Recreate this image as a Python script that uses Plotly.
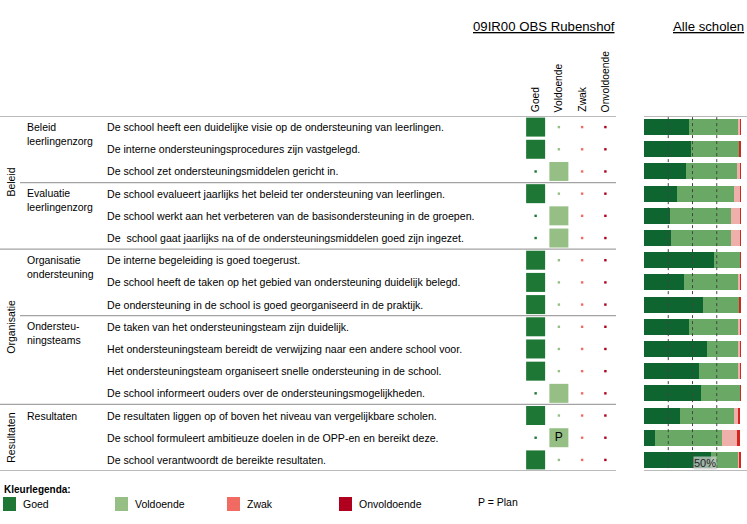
import plotly.graph_objects as go

W, H = 747, 524
FONT = "Arial, Liberation Sans, sans-serif"

# ---------------- data ----------------
groups = ["Beleid", "Organisatie", "Resultaten"]
group_center_rows = [2.5, 9.0, 14.0]

subgroups = ["Beleid<br>leerlingenzorg", "Evaluatie<br>leerlingenzorg",
             "Organisatie<br>ondersteuning", "Ondersteu-<br>ningsteams", "Resultaten"]
subgroup_first_rows = [0, 3, 6, 9, 13]

statements = [
    "De school heeft een duidelijke visie op de ondersteuning van leerlingen.",
    "De interne ondersteuningsprocedures zijn vastgelegd.",
    "De school zet ondersteuningsmiddelen gericht in.",
    "De school evalueert jaarlijks het beleid ter ondersteuning van leerlingen.",
    "De school werkt aan het verbeteren van de basisondersteuning in de groepen.",
    "De  school gaat jaarlijks na of de ondersteuningsmiddelen goed zijn ingezet.",
    "De interne begeleiding is goed toegerust.",
    "De school heeft de taken op het gebied van ondersteuning duidelijk belegd.",
    "De ondersteuning in de school is goed georganiseerd in de praktijk.",
    "De taken van het ondersteuningsteam zijn duidelijk.",
    "Het ondersteuningsteam bereidt de verwijzing naar een andere school voor.",
    "Het ondersteuningsteam organiseert snelle ondersteuning in de school.",
    "De school informeert ouders over de ondersteuningsmogelijkheden.",
    "De resultaten liggen op of boven het niveau van vergelijkbare scholen.",
    "De school formuleert ambitieuze doelen in de OPP-en en bereikt deze.",
    "De school verantwoordt de bereikte resultaten.",
]

categories = ["Goed", "Voldoende", "Zwak", "Onvoldoende"]
school_rating = ["Goed", "Goed", "Voldoende", "Goed", "Voldoende", "Voldoende",
                 "Goed", "Goed", "Goed", "Goed", "Goed", "Goed", "Voldoende",
                 "Goed", "Voldoende", "Goed"]
plan_flag = ["", "", "", "", "", "", "", "", "", "", "", "", "", "", "P", ""]

all_goed = [46.5, 48.6, 43.4, 34.1, 26.9, 27.9, 72.4, 41.4, 60.9, 46.6, 65.2, 56.9, 59.0, 37.2, 11.4, 69.3]
all_voldoende = [50.7, 49.7, 52.8, 59.0, 63.1, 62.1, 26.6, 55.9, 37.2, 50.7, 32.1, 40.4, 40.0, 55.9, 69.3, 27.9]
all_zwak = [1.8, 0.4, 2.8, 5.9, 9.0, 9.0, 0.0, 1.7, 0.7, 1.7, 1.7, 1.7, 0.0, 4.8, 15.5, 1.7]
all_onvoldoende = [1.0, 1.3, 1.0, 1.0, 1.0, 1.0, 1.0, 1.0, 1.2, 1.0, 1.0, 1.0, 1.0, 1.0, 2.8, 1.0]

ref_lines = [25, 50, 75]

# ---------------- styles ----------------
cell_colors = {"Goed": "#1e7735", "Voldoende": "#96bf85", "Zwak": "#f26b63", "Onvoldoende": "#b0001e"}
bar_colors = ["#0e6530", "#6aa965", "#efb0ab", "#d9231f"]


def px(x):
    return x / W


def py(y):
    return 1 - y / H


n = len(statements)
rows = list(range(n))

fig = go.Figure()

# school matrix: big squares for rating, small dots otherwise
for ci, cat in enumerate(categories):
    big_rows = [r for r in rows if school_rating[r] == cat]
    small_rows = [r for r in rows if school_rating[r] != cat]
    fig.add_trace(go.Scatter(
        x=[ci] * len(big_rows), y=big_rows, mode="markers+text",
        text=[plan_flag[r] for r in big_rows], textposition="middle center",
        textfont=dict(family=FONT, size=12, color="#000"),
        marker=dict(symbol="square", size=19, color=cell_colors[cat], line=dict(width=0)),
        xaxis="x", yaxis="y", showlegend=False, hoverinfo="skip"))
    fig.add_trace(go.Scatter(
        x=[ci] * len(small_rows), y=small_rows, mode="markers",
        marker=dict(symbol="square", size=2.4, color=cell_colors[cat], line=dict(width=0)),
        xaxis="x", yaxis="y", showlegend=False, hoverinfo="skip"))

# all schools stacked bars
for vals, col, name in zip([all_goed, all_voldoende, all_zwak, all_onvoldoende], bar_colors, categories):
    fig.add_trace(go.Bar(
        x=vals, y=rows, orientation="h", width=0.72, marker=dict(color=col, line=dict(width=0)),
        xaxis="x2", yaxis="y", name=name, showlegend=False, hoverinfo="skip"))

shapes = []
LINE = dict(color="#a3a3a3", width=1.3)
for yv in [-0.5, 5.5, 12.5, 15.5]:
    shapes.append(dict(type="line", xref="paper", yref="y", x0=0, x1=px(616), y0=yv, y1=yv, line=LINE))
for yv in [2.5, 8.5]:
    shapes.append(dict(type="line", xref="paper", yref="y", x0=px(20), x1=px(616), y0=yv, y1=yv, line=LINE))
for yv in [-0.5, 15.5]:
    shapes.append(dict(type="line", xref="paper", yref="y", x0=px(644), x1=1, y0=yv, y1=yv, line=LINE))
for xv in ref_lines:
    shapes.append(dict(type="line", xref="x2", yref="y", x0=xv, x1=xv, y0=-0.45, y1=15.5,
                       line=dict(color="#444444", width=1, dash="dot"), layer="above"))

annotations = []
# titles
annotations.append(dict(text="<u>09IR00 OBS Rubenshof</u>", xref="paper", yref="paper", x=px(617), y=py(26),
                        xanchor="right", yanchor="middle", showarrow=False,
                        font=dict(family=FONT, size=13.2, color="#000")))
annotations.append(dict(text="<u>Alle scholen</u>", xref="paper", yref="paper", x=px(746), y=py(26),
                        xanchor="right", yanchor="middle", showarrow=False,
                        font=dict(family=FONT, size=13.2, color="#000")))
# column headers
for ci, cat in enumerate(categories):
    annotations.append(dict(text=cat, xref="x", yref="y", x=ci, y=-0.5, yshift=2, textangle=-90,
                            xanchor="center", yanchor="bottom", showarrow=False,
                            font=dict(family=FONT, size=10.3, color="#000")))
# group labels
for g, gr in zip(groups, group_center_rows):
    annotations.append(dict(text=g, xref="paper", yref="y", x=px(11), y=gr, textangle=-90,
                            xanchor="center", yanchor="middle", showarrow=False,
                            font=dict(family=FONT, size=10.5, color="#000")))
# subgroup labels
for sg, r in zip(subgroups, subgroup_first_rows):
    two = "<br>" in sg
    annotations.append(dict(text=sg, xref="paper", yref="y", x=px(25), y=r, yshift=-6.5 if two else 0,
                            xanchor="left", yanchor="middle", align="left", showarrow=False,
                            font=dict(family=FONT, size=10.5, color="#000")))
# statements
for r, s in enumerate(statements):
    annotations.append(dict(text=s, xref="paper", yref="y", x=px(105), y=r,
                            xanchor="left", yanchor="middle", align="left", showarrow=False,
                            font=dict(family=FONT, size=10.6, color="#000")))
# 50% label
annotations.append(dict(text="50%", xref="x2", yref="y", x=ref_lines[1], y=n - 1, yshift=-3,
                        xanchor="left", yanchor="middle", showarrow=False, borderpad=0,
                        bgcolor="rgba(205,205,205,0.75)",
                        font=dict(family=FONT, size=11, color="#222")))

# color legend
annotations.append(dict(text="<b>Kleurlegenda:</b>", xref="paper", yref="paper", x=px(2), y=py(489),
                        xanchor="left", yanchor="middle", showarrow=False,
                        font=dict(family=FONT, size=10, color="#000")))
leg_x = [3, 115, 227, 339]
for lx, cat in zip(leg_x, categories):
    shapes.append(dict(type="rect", xref="paper", yref="paper", x0=px(lx), x1=px(lx + 13),
                       y0=py(511), y1=py(497), fillcolor=cell_colors[cat], line=dict(width=0)))
    annotations.append(dict(text=cat, xref="paper", yref="paper", x=px(lx + 18), y=py(504),
                            xanchor="left", yanchor="middle", showarrow=False,
                            font=dict(family=FONT, size=10.5, color="#000")))
annotations.append(dict(text="P = Plan", xref="paper", yref="paper", x=px(476), y=py(502),
                        xanchor="left", yanchor="middle", showarrow=False,
                        font=dict(family=FONT, size=10.5, color="#000")))

fig.update_layout(
    width=W, height=H, margin=dict(l=0, r=0, t=0, b=0),
    paper_bgcolor="white", plot_bgcolor="white",
    barmode="stack", bargap=0,
    xaxis=dict(domain=[px(524), px(617)], range=[-0.5, 3.5], visible=False, fixedrange=True),
    xaxis2=dict(domain=[px(644), px(741)], range=[0, 100], visible=False, anchor="y", fixedrange=True),
    yaxis=dict(domain=[py(471), py(116)], range=[15.5, -0.5], visible=False, fixedrange=True),
    shapes=shapes, annotations=annotations,
)

fig.write_html("out.html", config={"displayModeBar": False},
               post_script="document.body.style.margin='0';document.body.style.padding='0';")
